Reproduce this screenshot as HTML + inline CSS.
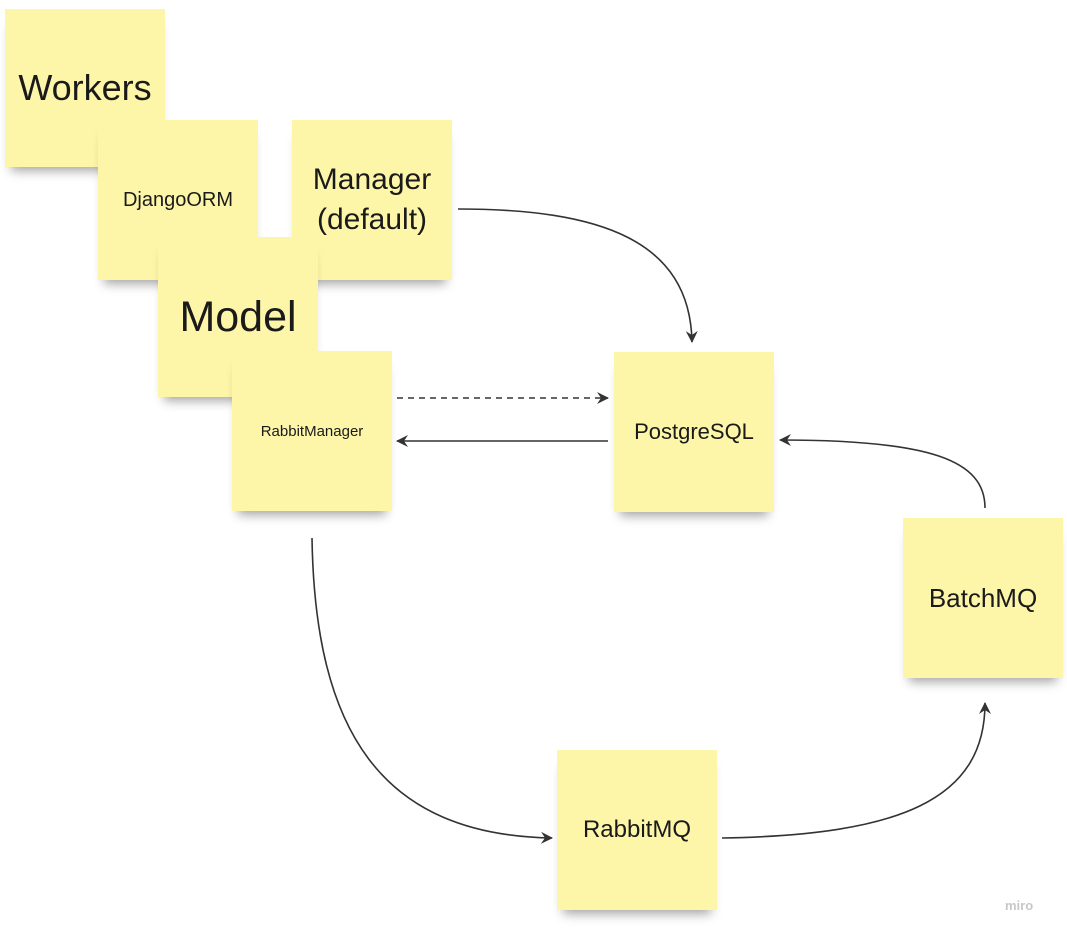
<!DOCTYPE html>
<html><head><style>
body{margin:0;width:1067px;height:936px;background:#fff;position:relative;overflow:hidden;font-family:"Liberation Sans",sans-serif}
.n{position:absolute;width:160px;height:160px;background:#fdf5a8;display:flex;align-items:center;justify-content:center;text-align:center;color:#1a1a1a;box-shadow:0 10px 10px -6px rgba(0,0,0,0.35)}
</style></head><body>
<div class="n" style="left:5px;top:9px;width:160px;height:158px;font-size:36px">Workers</div>
<div class="n" style="left:98px;top:120px;font-size:20px">DjangoORM</div>
<div class="n" style="left:292px;top:120px;font-size:30px;line-height:40px">Manager<br>(default)</div>
<div class="n" style="left:158px;top:237px;font-size:43px;align-items:flex-start;"><span style="margin-top:56px">Model</span></div>
<div class="n" style="left:232px;top:351px;font-size:15px">RabbitManager</div>
<div class="n" style="left:614px;top:352px;font-size:22px">PostgreSQL</div>
<div class="n" style="left:903px;top:518px;font-size:26px">BatchMQ</div>
<div class="n" style="left:557px;top:750px;font-size:24px">RabbitMQ</div>
<div style="position:absolute;left:1005px;top:898px;font-size:13px;color:#c8c8c8;font-weight:bold">miro</div>
<svg width="1067" height="936" style="position:absolute;left:0;top:0" fill="none" stroke="#333" stroke-width="1.6">
<defs><marker id="a" markerWidth="14" markerHeight="14" refX="11" refY="6" orient="auto" markerUnits="userSpaceOnUse"><path d="M0,0 L12,6 L0,12 L4,6z" fill="#333" stroke="none"/></marker></defs>
<path d="M458,209 C600,209 690,240 692,342" marker-end="url(#a)"/>
<path d="M397,398 L608,398" stroke-dasharray="6,5" marker-end="url(#a)"/>
<path d="M608,441 L397,441" marker-end="url(#a)"/>
<path d="M312,538 C315,730 380,835 552,838" marker-end="url(#a)"/>
<path d="M722,838 C900,835 985,800 985,703" marker-end="url(#a)"/>
<path d="M985,508 C985,460 930,440 780,440" marker-end="url(#a)"/>
</svg>
</body></html>
